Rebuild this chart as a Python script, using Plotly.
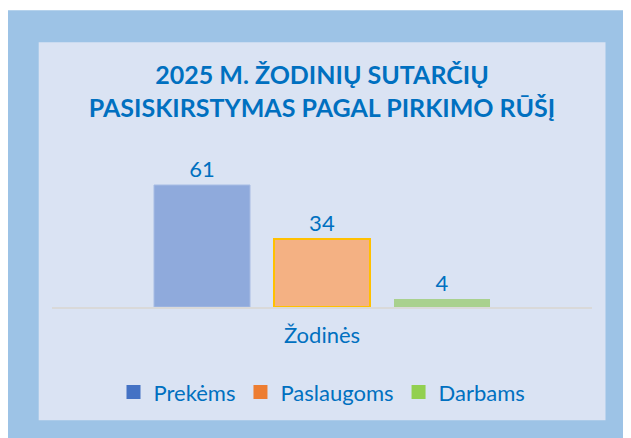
import plotly.graph_objects as go

# ---- data ----
categories = ["Žodinės"]
series_names = ["Prekėms", "Paslaugoms", "Darbams"]
series_values = [[61], [34], [4]]
title_lines = ["2025 M. ŽODINIŲ SUTARČIŲ", "PASISKIRSTYMAS PAGAL PIRKIMO RŪŠĮ"]

# ---- styles ----
bar_fill = ["#8FAADC", "#F4B183", "#A9D18E"]
bar_line = ["#A7BCE4", "#FFC000", "#A9D18E"]
bar_line_w = [1, 2, 0]
legend_colors = ["#4472C4", "#ED7D31", "#92D050"]
text_color = "#0070C0"
FONT = "Lato"

OFF = 8  # page body margin
W, H = 631 - OFF, 438 - OFF
PL, PR, PT, PB = 52 - OFF, 592 - OFF, 146.7 - OFF, 306.7 - OFF  # plot area in figure px


def px_x(x):
    return (x - OFF - PL) / (PR - PL)


def px_y(y):
    return (PB - (y - OFF)) / (PB - PT)


fig = go.Figure()
for name, vals, fc, lc, lw in zip(series_names, series_values, bar_fill, bar_line, bar_line_w):
    fig.add_trace(go.Bar(
        x=categories, y=vals, name=name, showlegend=False,
        marker=dict(color=fc, line=dict(color=lc, width=lw)),
        text=vals, textposition="outside", cliponaxis=False,
        textfont=dict(family=FONT, size=22, color=text_color),
        hoverinfo="skip",
    ))
for name, c in zip(series_names, legend_colors):
    fig.add_trace(go.Scatter(
        x=[None], y=[None], mode="markers", name=name,
        marker=dict(symbol="square", size=14, color=c),
    ))

shapes = [
    dict(type="rect", xref="paper", yref="paper", layer="below",
         x0=px_x(6.7), x1=px_x(640), y0=px_y(445), y1=px_y(10),
         fillcolor="#9DC3E6", line=dict(width=0)),
    dict(type="rect", xref="paper", yref="paper", layer="below",
         x0=px_x(38.7), x1=px_x(605.5), y0=px_y(420), y1=px_y(42),
         fillcolor="#DAE3F3", line=dict(width=0)),
]

fig.update_layout(
    width=W, height=H,
    margin=dict(l=PL, r=W - PR, t=PT, b=H - PB, pad=0),
    paper_bgcolor="white", plot_bgcolor="rgba(0,0,0,0)",
    barmode="group", bargap=1 / 3, bargroupgap=0.2,
    shapes=shapes,
    title=dict(
        text="<br>".join(title_lines),
        x=0.5, xref="paper", xanchor="center",
        y=1 - 76 / H, yref="container", yanchor="middle",
        font=dict(family=FONT, size=25, color=text_color, weight="bold"),
    ),
    xaxis=dict(
        showline=True, linecolor="#D9D9D9", linewidth=2,
        showgrid=False, zeroline=False, ticks="",
        ticklabelstandoff=8,
        tickfont=dict(family=FONT, size=22, color=text_color),
    ),
    yaxis=dict(visible=False, range=[0, 80]),
    legend=dict(
        orientation="h", x=0.5, xanchor="center",
        y=px_y(392), yanchor="middle",
        font=dict(family=FONT, size=22, color=text_color),
        bgcolor="rgba(0,0,0,0)",
    ),
    showlegend=True,
)

fig.write_html("out.html")
